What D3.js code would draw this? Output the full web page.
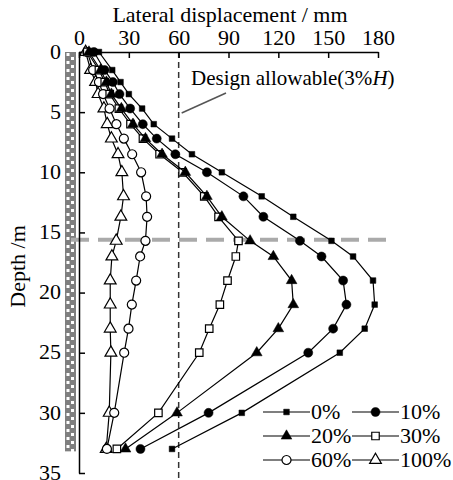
<!DOCTYPE html>
<html>
<head>
<meta charset="utf-8">
<script src="https://cdn.jsdelivr.net/npm/d3@7"></script>
<style>
  html, body { margin: 0; padding: 0; background: #fff; }
  svg { display: block; }
  svg text { font-family: 'Liberation Serif', 'Times New Roman', serif; fill: #000; }
</style>
</head>
<body>
<div id="svg-container"></div>
<script>
// depth of each measuring point (m)
const depths = [0, 1.5, 2.5, 3.5, 4.7, 6, 7.2, 8.5, 10, 12, 13.7, 15.7, 17, 19, 21, 23, 25, 30, 33]

// lateral displacement (mm) for each series
const disp0 = [12, 20, 25, 30, 38, 45, 56, 68, 86, 110, 129, 152, 165, 177, 178, 172, 157, 98, 56]
const disp10 = [9, 15.4, 20.4, 24.4, 30.8, 38.4, 46.8, 58, 77, 99, 111, 133, 146, 159, 161, 153, 138, 78, 37]
const disp20 = [6, 13, 16.5, 19.5, 25.5, 32.5, 40, 50, 64, 77, 86, 103, 117, 128, 129, 120, 107, 59, 28]
const disp30 = [5, 12, 15.5, 18.5, 24, 31, 38.5, 48.5, 62.4, 75.4, 84, 96, 94.4, 89.4, 84.8, 78.4, 72.4, 47.8, 22.8]
const disp60 = [5, 8.5, 12, 14.5, 18.4, 22.5, 27, 32, 37.4, 40.4, 41, 40, 36.8, 34.4, 31.8, 29.8, 27.2, 21.2, 16.8]
const disp100 = [4, 7, 10, 11.5, 15, 17, 19.5, 23.5, 25.8, 26.8, 25.2, 22.4, 19.8, 18.8, 18.8, 18.8, 19.2, 18.2, 16.4]

const seriesNames = ['0%', '10%', '20%', '30%', '60%', '100%']
const seriesValues = [disp0, disp10, disp20, disp30, disp60, disp100]

const xTicks = [0, 30, 60, 90, 120, 150, 180]
const yTicks = [0, 5, 10, 15, 20, 25, 30, 35]

const allowable = 60 // mm, design allowable (3%H)
const excavationDepth = 15.6 // m
const pileDepth = 33.2 // m

// marker per series: [symbol, filled, size]
const markerStyles = {
  '0%': [d3.symbolSquare, true, 32],
  '10%': [d3.symbolCircle, true, 64],
  '20%': [d3.symbolTriangle, true, 50],
  '30%': [d3.symbolSquare, false, 56],
  '60%': [d3.symbolCircle, false, 64],
  '100%': [d3.symbolTriangle, false, 60],
}

const width = 453
const height = 480
const fontSize = 22

const x = d3.scaleLinear().domain([0, 180]).range([79, 378])
const y = d3.scaleLinear().domain([0, 35]).range([52, 473])

const svg = d3
  .select('#svg-container')
  .append('svg')
  .attr('width', width)
  .attr('height', height)
  .attr('viewBox', `0 0 ${width} ${height}`)

// pile pattern
const defs = svg.append('defs')
const pat = defs
  .append('pattern')
  .attr('id', 'pile')
  .attr('patternUnits', 'userSpaceOnUse')
  .attr('x', 65)
  .attr('y', 52)
  .attr('width', 11)
  .attr('height', 8)
pat.append('rect').attr('width', 11).attr('height', 8).attr('fill', '#7f7f7f')
pat.append('rect').attr('x', 1.5).attr('y', 1).attr('width', 3).attr('height', 3).attr('fill', '#fff')
pat.append('rect').attr('x', 6).attr('y', 5).attr('width', 3).attr('height', 3).attr('fill', '#fff')

svg
  .append('rect')
  .attr('x', 65)
  .attr('y', y(0))
  .attr('width', 11)
  .attr('height', y(pileDepth) - y(0))
  .attr('fill', 'url(#pile)')

// excavation depth line
svg
  .append('line')
  .attr('x1', 71)
  .attr('x2', 387)
  .attr('y1', y(excavationDepth))
  .attr('y2', y(excavationDepth))
  .attr('stroke', '#aaa')
  .attr('stroke-width', 4)
  .attr('stroke-dasharray', '18 9')

// allowable line
svg
  .append('line')
  .attr('x1', x(allowable))
  .attr('x2', x(allowable))
  .attr('y1', y(0))
  .attr('y2', height)
  .attr('stroke', '#333')
  .attr('stroke-width', 1.5)
  .attr('stroke-dasharray', '6 4')

// axes
const xAxis = svg
  .append('g')
  .attr('transform', `translate(0, ${y(0)})`)
  .call(d3.axisTop(x).tickValues(xTicks).tickSizeInner(-6).tickSizeOuter(0).tickPadding(7))
const yAxis = svg
  .append('g')
  .attr('transform', `translate(${x(0)}, 0)`)
  .call(d3.axisLeft(y).tickValues(yTicks).tickSizeInner(-6).tickSizeOuter(0).tickPadding(18))

;[xAxis, yAxis].forEach(g => {
  g.attr('font-family', null).attr('font-size', fontSize)
  g.selectAll('.domain').attr('stroke', '#000').attr('stroke-width', 1.5)
  g.selectAll('.tick line').attr('stroke', '#000').attr('stroke-width', 1.5)
  g.selectAll('.tick text').attr('fill', '#000')
})
yAxis.selectAll('.tick text').attr('dy', '0.28em')

// axis titles
svg
  .append('text')
  .attr('x', 230)
  .attr('y', 22)
  .attr('text-anchor', 'middle')
  .attr('font-size', fontSize)
  .text('Lateral displacement / mm')

svg
  .append('text')
  .attr('transform', `translate(25, ${(y(0) + y(35)) / 2 + 4}) rotate(-90)`)
  .attr('text-anchor', 'middle')
  .attr('font-size', fontSize)
  .text('Depth /m')

// annotation
svg
  .append('line')
  .attr('x1', x(allowable) + 3)
  .attr('y1', 113)
  .attr('x2', 226)
  .attr('y2', 93)
  .attr('stroke', '#555')
  .attr('stroke-width', 1.5)

const ann = svg
  .append('text')
  .attr('x', 191)
  .attr('y', 85)
  .attr('font-size', 21)
ann.append('tspan').text('Design allowable(3%')
ann.append('tspan').attr('font-style', 'italic').text('H')
ann.append('tspan').text(')')

const drawMarker = (sel, name) => {
  const [type, filled, size] = markerStyles[name]
  sel
    .attr('d', d3.symbol().type(type).size(size)())
    .attr('fill', filled ? '#000' : '#fff')
    .attr('stroke', '#000')
    .attr('stroke-width', filled ? 0.5 : 1.2)
}

const line = d3
  .line()
  .x(d => x(d[0]))
  .y(d => y(d[1]))

// series, drawn from the last to the first
seriesNames
  .map((name, i) => ({ name, points: seriesValues[i].map((v, j) => [v, depths[j]]) }))
  .reverse()
  .forEach(s => {
    const g = svg.append('g').attr('class', 'series')
    g.append('path')
      .attr('d', line(s.points))
      .attr('fill', 'none')
      .attr('stroke', '#000')
      .attr('stroke-width', 1.2)
    g.selectAll('path.marker')
      .data(s.points)
      .join('path')
      .attr('class', 'marker')
      .attr('transform', d => `translate(${x(d[0])}, ${y(d[1])})`)
      .call(sel => drawMarker(sel, s.name))
  })

// legend
const legendCols = [263, 352]
const legendRows = [412, 436, 460]
const legend = svg.append('g').attr('class', 'legend')
seriesNames.forEach((name, i) => {
  const lx = legendCols[i % 2]
  const ly = legendRows[Math.floor(i / 2)]
  const item = legend.append('g').attr('transform', `translate(${lx}, ${ly})`)
  item
    .append('line')
    .attr('x1', 0)
    .attr('x2', 47)
    .attr('stroke', '#000')
    .attr('stroke-width', 1.2)
  item
    .append('path')
    .attr('transform', 'translate(23.5, 0)')
    .call(sel => drawMarker(sel, name))
  item
    .append('text')
    .attr('x', 48)
    .attr('y', 7)
    .attr('font-size', fontSize)
    .text(name)
})
</script>
</body>
</html>
